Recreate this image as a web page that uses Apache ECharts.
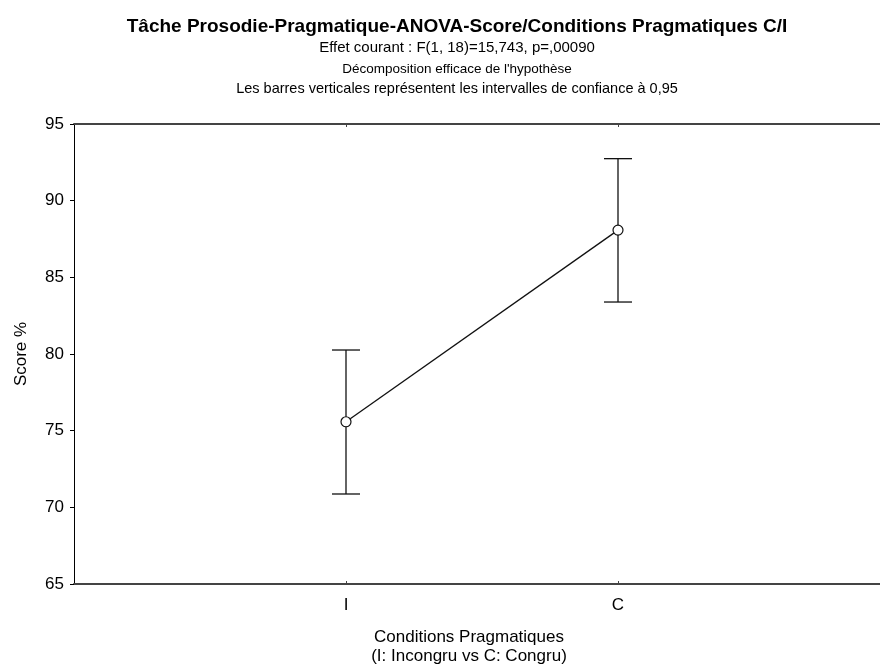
<!DOCTYPE html>
<html>
<head>
<meta charset="utf-8">
<script src="https://cdn.jsdelivr.net/npm/echarts@6/dist/echarts.min.js"></script>
<style>
html,body{margin:0;padding:0;background:#fff;}
#main{width:880px;height:669px;}
</style>
</head>
<body>
<div id="main"></div>
<script>
// Data
var categories = ['', 'I', 'C', ''];
var means = [null, 75.58, 88.08, null];
var lower = [null, 70.87, 83.39, null];
var upper = [null, 80.26, 92.74, null];
var yTicks = [65, 70, 75, 80, 85, 90, 95];

var titleText = 'Tâche Prosodie-Pragmatique-ANOVA-Score/Conditions Pragmatiques C/I';
var subText1 = 'Effet courant : F(1, 18)=15,743, p=,00090';
var subText2 = 'Décomposition efficace de l\'hypothèse';
var subText3 = 'Les barres verticales représentent les intervalles de confiance à 0,95';
var yName = 'Score %';
var xName = 'Conditions Pragmatiques\n(I: Incongru vs C: Congru)';

var FONT = 'Liberation Sans, Arial, sans-serif';

var errData = [];
for (var i = 0; i < categories.length; i++) {
  if (means[i] != null) errData.push([i, lower[i], upper[i]]);
}

var chart = echarts.init(document.getElementById('main'));
chart.setOption({
  backgroundColor: '#fff',
  animation: false,
  title: [
    {text: titleText, left: 452, top: 12, textAlign: 'center',
     textStyle: {fontFamily: FONT, fontSize: 19, fontWeight: 'bold', color: '#000'}},
    {text: subText1, left: 452, top: 35, textAlign: 'center',
     textStyle: {fontFamily: FONT, fontSize: 15, fontWeight: 'normal', color: '#000'}},
    {text: subText2, left: 452, top: 57, textAlign: 'center',
     textStyle: {fontFamily: FONT, fontSize: 13.5, fontWeight: 'normal', color: '#000'}},
    {text: subText3, left: 452, top: 76, textAlign: 'center',
     textStyle: {fontFamily: FONT, fontSize: 14.5, fontWeight: 'normal', color: '#000'}}
  ],
  grid: {left: 74, top: 124, width: 816, height: 460, containLabel: false, outerBoundsMode: 'none'},
  xAxis: [
    {type: 'category', data: categories, boundaryGap: false, position: 'bottom',
     axisLine: {lineStyle: {color: '#444', width: 2}},
     axisTick: {inside: true, length: 3, lineStyle: {color: '#444'},
                interval: function (idx, v) { return v !== ''; }},
     axisLabel: {fontFamily: FONT, fontSize: 17, color: '#000', margin: 13, interval: 0},
     splitLine: {show: false}},
    {type: 'category', data: categories, boundaryGap: false, position: 'top',
     axisLine: {lineStyle: {color: '#444', width: 2}},
     axisTick: {inside: true, length: 3, lineStyle: {color: '#444'},
                interval: function (idx, v) { return v !== ''; }},
     axisLabel: {show: false}, splitLine: {show: false}}
  ],
  yAxis: {
    type: 'value', min: 65, max: 95, interval: 5,
    name: yName, nameLocation: 'middle', nameGap: 44, nameRotate: 90,
    nameTextStyle: {fontFamily: FONT, fontSize: 17, color: '#000'},
    axisLine: {show: true, lineStyle: {color: '#000', width: 1}},
    axisTick: {show: true, inside: false, length: 4, lineStyle: {color: '#000'}},
    axisLabel: {fontFamily: FONT, fontSize: 17, color: '#000', margin: 10,
                formatter: function (v) { return yTicks.indexOf(v) >= 0 ? String(v) : ''; }},
    splitLine: {show: false}
  },
  graphic: [
    {type: 'text', x: 469, y: 628,
     style: {text: xName, font: '17px ' + FONT, fill: '#000', textAlign: 'center', lineHeight: 19}}
  ],
  series: [
    {type: 'custom', xAxisIndex: 0, data: errData, z: 2,
     renderItem: function (params, api) {
       var x = api.value(0);
       var lo = api.coord([x, api.value(1)]);
       var hi = api.coord([x, api.value(2)]);
       var hw = 14;
       var st = {stroke: '#111', lineWidth: 1.3};
       return {type: 'group', children: [
         {type: 'line', shape: {x1: lo[0], y1: lo[1], x2: hi[0], y2: hi[1]}, style: st},
         {type: 'line', shape: {x1: lo[0] - hw, y1: lo[1], x2: lo[0] + hw, y2: lo[1]}, style: st},
         {type: 'line', shape: {x1: hi[0] - hw, y1: hi[1], x2: hi[0] + hw, y2: hi[1]}, style: st}
       ]};
     }},
    {type: 'line', xAxisIndex: 0, data: means, connectNulls: true, z: 3,
     symbol: 'circle', symbolSize: 10, showSymbol: true,
     lineStyle: {color: '#111', width: 1.3},
     itemStyle: {color: '#fff', borderColor: '#111', borderWidth: 1.2}}
  ]
});
</script>
</body>
</html>
